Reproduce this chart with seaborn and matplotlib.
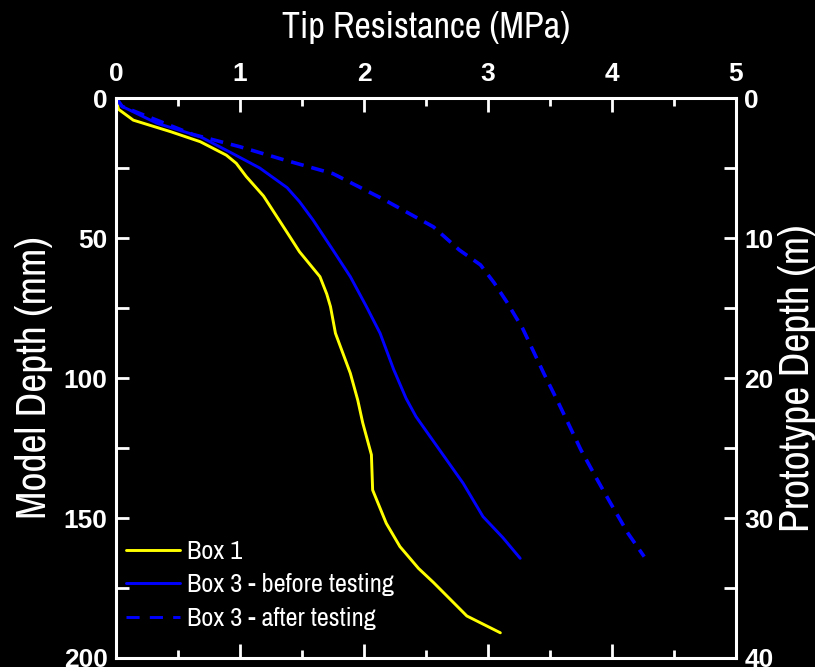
import matplotlib
matplotlib.use("Agg")
import matplotlib.pyplot as plt
import matplotlib.font_manager as fm
import seaborn as sns
import pandas as pd
from matplotlib.ticker import MultipleLocator
from matplotlib.lines import Line2D

# ---- data ----
box1_q = [0, 0.02, 0.14, 0.44, 0.68, 0.89, 0.97, 1.05, 1.19, 1.38, 1.48, 1.645, 1.70, 1.73, 1.77,
          1.89, 1.95, 1.99, 2.06, 2.07, 2.18, 2.29, 2.44, 2.56, 2.83, 3.10]
box1_d = [0, 4, 7.9, 12, 15.6, 20.4, 23.3, 28, 35, 48, 54.9, 63.8, 70, 74.5, 84,
          98.3, 107.9, 116, 127.4, 140, 151.9, 160.2, 168, 173, 185, 191]

before_q = [0, 0.05, 0.33, 0.68, 0.94, 1.16, 1.38, 1.48, 1.59, 1.75, 1.89, 2.02, 2.13, 2.24,
            2.34, 2.42, 2.61, 2.80, 2.96, 3.12, 3.26]
before_d = [0, 3, 9, 13.8, 19.8, 25, 32, 37, 43.6, 54.3, 63.8, 74.5, 84, 97,
            107.3, 113.8, 125.7, 137.6, 149.5, 157, 164.4]

after_q = [0, 0.05, 0.62, 1.0, 1.35, 1.75, 2.15, 2.56, 2.77, 2.94, 3.05, 3.15, 3.28, 3.45,
           3.57, 3.75, 3.89, 3.99, 4.13, 4.26]
after_d = [0, 3, 13, 17.4, 22, 27, 36, 46, 54.3, 59.6, 66, 72.7, 82.3, 98.3,
           109, 125.7, 137, 144.8, 155.5, 163.8]

labels = ["Box 1", "Box 3 - before testing", "Box 3 - after testing"]
x_ticks = [0, 1, 2, 3, 4, 5]
y_ticks = [0, 50, 100, 150, 200]
y2_ticks = [0, 10, 20, 30, 40]

sns.set_theme(style="dark")

# find a condensed / narrow face if one is installed (used for axis titles / legend)
fam = "DejaVu Sans"
stretch = "normal"
for f in fm.fontManager.ttflist:
    n = f.name.lower()
    if "narrow" in n or "condensed" in n:
        fam = f.name
        break
else:
    for f in fm.fontManager.ttflist:
        if str(f.stretch) in ("condensed", "semi-condensed", "extra-condensed") or \
           (isinstance(f.stretch, int) and f.stretch < 500):
            fam = f.name
            stretch = "condensed"
            break
plt.rcParams["font.family"] = [fam, "DejaVu Sans"]
plt.rcParams["font.stretch"] = stretch
TICKFONT = ["Liberation Sans", "DejaVu Sans"]

fig = plt.figure(figsize=(8.15, 6.67), dpi=100, facecolor="black")
ax = fig.add_axes([0.1423, 0.0135, 0.903 - 0.1423, 0.853 - 0.0135])
ax.set_facecolor("black")

DASH = (0, (3.6, 2.2))
df1 = pd.DataFrame({"q": box1_q, "d": box1_d})
df2 = pd.DataFrame({"q": before_q, "d": before_d})
df3 = pd.DataFrame({"q": after_q, "d": after_d})
sns.lineplot(data=df1, x="q", y="d", sort=False, estimator=None, color="#FFFF00", lw=2.1, ax=ax)
sns.lineplot(data=df2, x="q", y="d", sort=False, estimator=None, color="#0000FF", lw=2.1, ax=ax)
sns.lineplot(data=df3, x="q", y="d", sort=False, estimator=None, color="#0000FF", lw=2.6,
             ax=ax, linestyle=DASH)

ax.set_xlim(0, 5)
ax.set_ylim(200, 0)
ax.grid(False)
for s in ax.spines.values():
    s.set_color("white")
    s.set_linewidth(2.2)

ax.xaxis.set_ticks_position("both")
ax.xaxis.set_label_position("top")
ax.set_xticks(x_ticks)
ax.xaxis.set_minor_locator(MultipleLocator(0.5))
ax.set_yticks(y_ticks)
ax.yaxis.set_minor_locator(MultipleLocator(25))
ax.tick_params(axis="x", which="major", direction="in", length=10, width=2, color="white",
               top=True, bottom=True, labeltop=True, labelbottom=False, pad=9,
               labelcolor="white", labelsize=19)
ax.tick_params(axis="x", which="minor", direction="in", length=6, width=2, color="white",
               top=True, bottom=True)
ax.tick_params(axis="y", which="major", direction="in", length=9, width=2, color="white",
               left=True, right=False, pad=6, labelcolor="white", labelsize=19)
ax.tick_params(axis="y", which="minor", direction="in", length=9, width=2, color="white",
               left=True, right=False)
for t in ax.get_xticklabels() + ax.get_yticklabels():
    t.set_fontweight("bold")
    t.set_fontfamily(TICKFONT)

ax.set_xlabel("Tip Resistance (MPa)", color="white", fontsize=26, labelpad=17)
ax.set_ylabel("Model Depth (mm)", color="white", fontsize=30, labelpad=8)

ax2 = ax.twinx()
ax2.set_ylim(40, 0)
ax2.set_yticks(y2_ticks)
ax2.yaxis.set_minor_locator(MultipleLocator(5))
ax2.grid(False)
for s in ax2.spines.values():
    s.set_visible(False)
ax2.tick_params(axis="y", which="major", direction="in", length=9, width=2, color="white",
                right=True, pad=6, labelcolor="white", labelsize=19)
ax2.tick_params(axis="y", which="minor", direction="in", length=9, width=2, color="white")
for t in ax2.get_yticklabels():
    t.set_fontweight("bold")
    t.set_fontfamily(TICKFONT)
ax2.set_ylabel("Prototype Depth (m)", color="white", fontsize=30, labelpad=3)

handles = [Line2D([], [], color="#FFFF00", lw=2.1),
           Line2D([], [], color="#0000FF", lw=2.1),
           Line2D([], [], color="#0000FF", lw=2.1, linestyle=(0, (4.5, 3.5)))]
leg = ax.legend(handles, labels, loc="lower left", frameon=False, fontsize=19,
                handlelength=2.05, handletextpad=0.25, labelspacing=0.40,
                borderaxespad=0, borderpad=0,
                bbox_to_anchor=(10 / 620, 0.05), labelcolor="white")

fig.savefig("out.png", dpi=100, facecolor="black")
